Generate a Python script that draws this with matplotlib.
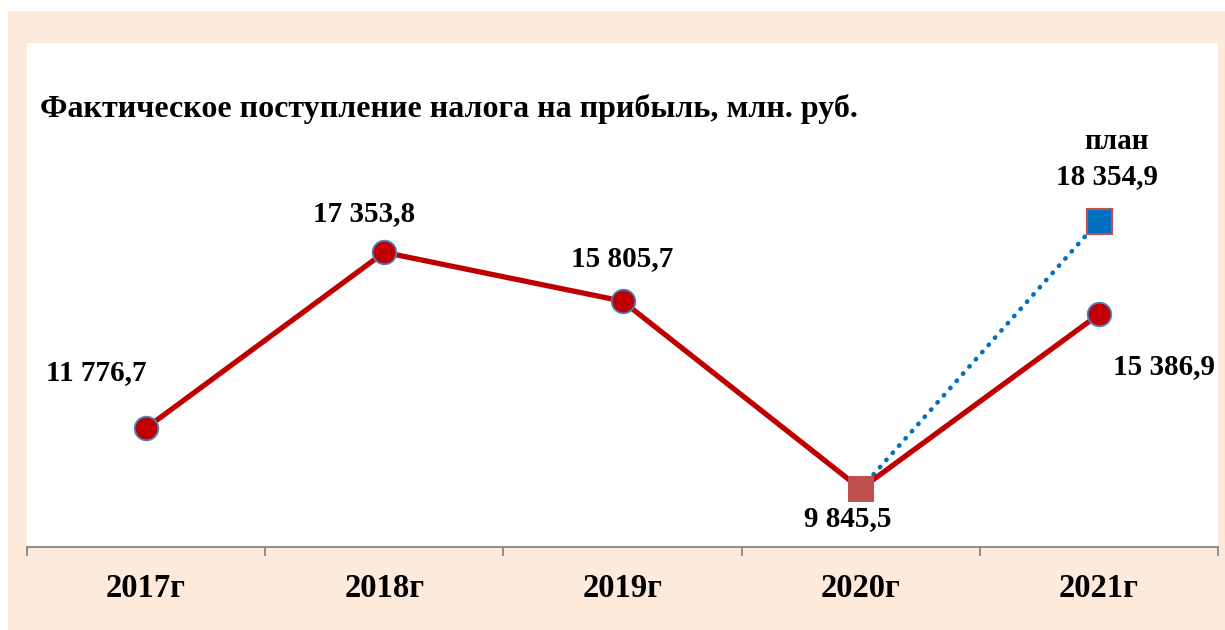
import matplotlib.pyplot as plt
from matplotlib.patches import Rectangle

plt.rcParams['font.family'] = ['Liberation Serif', 'DejaVu Serif']
plt.rcParams['font.weight'] = 'bold'

years = ['2017г', '2018г', '2019г', '2020г', '2021г']
fact = [11776.7, 17353.8, 15805.7, 9845.5, 15386.9]
fact_labels = ['11 776,7', '17 353,8', '15 805,7', '9 845,5', '15 386,9']
plan_x = [3, 4]
plan = [9845.5, 18354.9]
plan_label = '18 354,9'

red = '#C00000'
blue = '#0070C0'
brick = '#C0504D'
edge_blue = '#4F81BD'

fig = plt.figure(figsize=(12.25, 6.3), dpi=100)
fig.patch.set_facecolor('white')
fig.add_artist(Rectangle((8 / 1225, 0), 1, (630 - 11) / 630, transform=fig.transFigure,
                         facecolor='#FDEADA', edgecolor='none', zorder=0))

ax = fig.add_axes([27 / 1225, 83 / 630, 1191 / 1225, 504 / 630])
ax.set_facecolor('white')
ax.set_xlim(-0.5, 4.5)
ax.set_ylim(8000, 24000)

# линия плана (пунктир) рисуется под основными маркерами
ax.plot(plan_x, plan, color=blue, lw=3.3, ls=(0, (0.1, 2.0)), dash_capstyle='round', zorder=2)
ax.plot(plan_x[1], plan[1], marker='s', ms=18, mfc=blue, mec=brick, mew=1.5, zorder=4)

xs = list(range(len(fact)))
ax.plot(xs, fact, color=red, lw=3.8, zorder=3)
for i, v in enumerate(fact):
    if i == 3:
        ax.plot(i, v, marker='s', ms=18.5, mfc=brick, mec=brick, mew=0, zorder=4)
    else:
        ax.plot(i, v, marker='o', ms=17, mfc=red, mec=edge_blue, mew=1.3, zorder=4)

offsets = [(-36, 40), (-14.4, 28), (0, 31), (-9.4, -21.6), (47, -37.4)]
for i, (v, lab) in enumerate(zip(fact, fact_labels)):
    ax.annotate(lab, (i, v), xytext=offsets[i], textcoords='offset points',
                ha='center', va='center', fontsize=21, fontweight='bold')
ax.annotate(plan_label, (4, plan[1]), xytext=(5.8, 31.7), textcoords='offset points',
            ha='center', va='center', fontsize=21, fontweight='bold')
ax.annotate('план', (4, plan[1]), xytext=(13, 57), textcoords='offset points',
            ha='center', va='center', fontsize=21, fontweight='bold')

ax.text(0.011, 0.869, 'Фактическое поступление налога на прибыль, млн. руб.',
        transform=ax.transAxes, ha='left', va='center', fontsize=23, fontweight='bold')

for s in ['top', 'left', 'right']:
    ax.spines[s].set_visible(False)
ax.spines['bottom'].set_color('#868686')
ax.spines['bottom'].set_linewidth(1.3)

ax.set_yticks([])
ax.set_xticks(xs)
ax.set_xticklabels(years, fontsize=23.5, fontweight='bold')
ax.tick_params(axis='x', which='major', length=0, pad=19)
ax.set_xticks([x - 0.5 for x in range(len(years) + 1)], minor=True)
ax.tick_params(axis='x', which='minor', length=6.5, width=1.3, color='#868686')

fig.savefig('out.png', dpi=100)
